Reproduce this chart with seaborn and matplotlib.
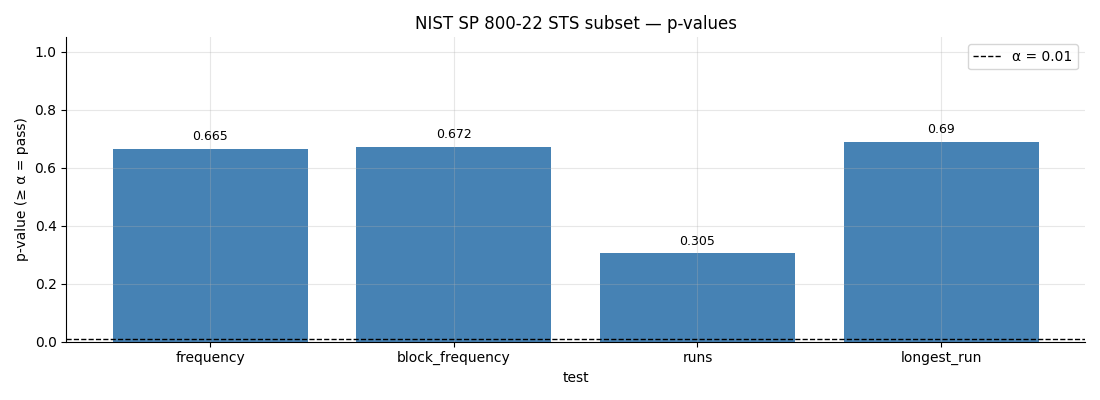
import matplotlib
matplotlib.use("Agg")
import matplotlib.pyplot as plt
import seaborn as sns
import pandas as pd

tests = ["frequency", "block_frequency", "runs", "longest_run"]
p_values = [0.665, 0.672, 0.305, 0.69]
value_labels = ["0.665", "0.672", "0.305", "0.69"]
alpha = 0.01

df = pd.DataFrame({"test": tests, "p": p_values})

fig, ax = plt.subplots(figsize=(11, 4), dpi=100)
sns.barplot(data=df, x="test", y="p", color="steelblue", saturation=1, width=0.8, ax=ax)
ax.axhline(alpha, color="black", linestyle="--", linewidth=1, label=f"α = {alpha}")
ax.bar_label(ax.containers[0], labels=value_labels, padding=4, fontsize=9)
ax.set_xlim(-0.59, len(tests) - 1 + 0.59)
ax.set_ylim(0, 1.05)
ax.set_xlabel("test")
ax.set_ylabel("p-value (≥ α = pass)")
ax.set_title("NIST SP 800-22 STS subset — p-values")
ax.grid(True, alpha=0.3)
ax.spines["top"].set_visible(False)
ax.spines["right"].set_visible(False)
ax.legend(loc="upper right")
fig.tight_layout()
fig.savefig("out.png")
